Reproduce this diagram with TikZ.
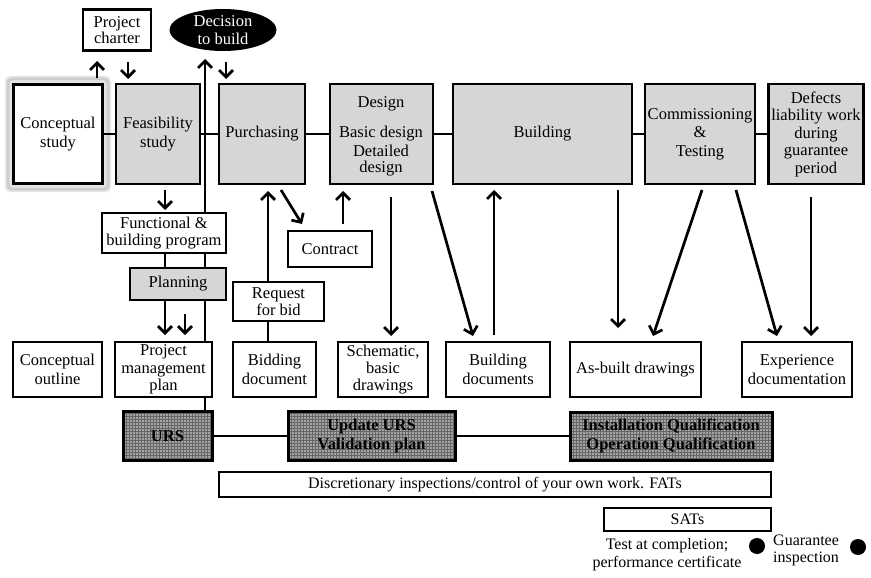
\documentclass[tikz,border=0pt]{standalone}
\usepackage{fontspec}
\setmainfont{Liberation Serif}
\usetikzlibrary{arrows.meta,shapes.geometric,patterns}
\definecolor{boxgray}{HTML}{D6D6D6}
\definecolor{texgray}{HTML}{A4A4A4}
\begin{document}
\begin{tikzpicture}[x=1pt,y=-1pt,
  every node/.style={font=\fontsize{16.5}{18.5}\selectfont, align=center, inner sep=0pt},
  wbox/.style={draw, line width=2.9pt, fill=white, rectangle},
  gbox/.style={wbox, fill=boxgray},
  tbox/.style={draw, line width=3pt, rectangle, preaction={fill=texgray}, pattern=grid, pattern color=gray!80!black, font=\fontsize{16.5}{18.5}\selectfont\bfseries},
  thin box/.style={draw, line width=1.5pt, fill=white, rectangle, font=\fontsize{16}{18}\selectfont},
  conn/.style={line width=2.7pt},
  arr/.style={line width=2.7pt, -{Straight Barb[length=7pt,width=14pt]}},
  dot/.style={circle, fill=black, minimum size=16pt}
]
\useasboundingbox (0,0) rectangle (871,578);

% glow behind conceptual study
\fill[gray!22, rounded corners=5pt] (5,76) rectangle (111,192);
\draw[gray!40, line width=2.5pt, rounded corners=4pt] (8,79) rectangle (108,189);

% top row
\node[wbox, minimum width=89, minimum height=99] (concept) at (58,134) {Conceptual\\study};
\node[gbox, minimum width=84, minimum height=100] (feas) at (158,134) {Feasibility\\study};
\node[gbox, minimum width=86, minimum height=100] (purch) at (262,134) {Purchasing};
\node[gbox, minimum width=103, minimum height=100] (design) at (381.5,134) {};
\node (designtxt) at (381,136.5) {Design\\[12pt]Basic design\\[0pt]Detailed\\[-2pt]design};
\node[gbox, minimum width=179, minimum height=100] (build) at (542.5,134) {Building};
\node[gbox, minimum width=110, minimum height=100] (comm) at (700,134) {Commissioning\\\&\\Testing};
\node[gbox, minimum width=95, minimum height=100, font=\fontsize{16.5}{17.5}\selectfont] (defects) at (816,134) {Defects\\liability work\\during\\guarantee\\period};

\draw[conn] (concept.east) -- (feas.west);
\draw[conn] (feas.east) -- (purch.west);
\draw[conn] (purch.east) -- (design.west);
\draw[conn] (design.east) -- (build.west);
\draw[conn] (build.east) -- (comm.west);
\draw[conn] (comm.east) -- (defects.west);

% top items
\node[wbox, minimum width=68, minimum height=41, font=\fontsize{16.5}{16.5}\selectfont] (charter) at (117,30) {Project\\charter};
\node[ellipse, fill=black, text=white, minimum width=107, minimum height=42, font=\fontsize{16.5}{17.5}\selectfont] (decision) at (223,30) {Decision\\to build};

\coordinate (a1s) at (97,78);  \coordinate (a1e) at (97,61);
\coordinate (a2s) at (128,62); \coordinate (a2e) at (128,79);
\coordinate (a3s) at (226,62); \coordinate (a3e) at (226,79);
\coordinate (vbot) at (205,411); \coordinate (vtop) at (205,59);
\draw[arr] (a1s) -- (a1e);
\draw[arr] (a2s) -- (a2e);
\draw[arr] (a3s) -- (a3e);
\draw[arr] (vbot) -- (vtop);

% left column under feasibility
\node[wbox, minimum width=124, minimum height=40, font=\fontsize{16.5}{17}\selectfont] (func) at (164,233) {Functional \&\\building program};
\node[gbox, minimum width=96, minimum height=32] (plan) at (178,284) {Planning};
\node[wbox, minimum width=97, minimum height=55, font=\fontsize{16.5}{17.5}\selectfont] (pmp) at (163.5,369.5) {Project\\management\\plan};
\node[wbox, minimum width=89, minimum height=55] (concout) at (57.5,369.5) {Conceptual\\outline};

\coordinate (f1s) at (165,190); \coordinate (f1e) at (165,210);
\draw[arr] (f1s) -- (f1e);
\draw[conn] (func.south -| f1s) -- (plan.north -| f1s);
\coordinate (p1s) at (165,300); \coordinate (p1e) at (165,335);
\coordinate (p2s) at (185,314); \coordinate (p2e) at (185,335);
\draw[arr] (p1s) -- (p1e);
\draw[arr] (p2s) -- (p2e);

% middle
\node[wbox, minimum width=91, minimum height=39, font=\fontsize{16.5}{17.5}\selectfont] (bidreq) at (278.5,301.5) {Request\\for bid};
\node[wbox, minimum width=84, minimum height=36] (contract) at (330,249) {Contract};
\node[wbox, minimum width=83, minimum height=55] (bidding) at (274.5,369.5) {Bidding\\document};
\node[wbox, minimum width=90, minimum height=55, font=\fontsize{16.5}{17}\selectfont] (schem) at (383,369.5) {Schematic,\\basic\\drawings};
\node[wbox, minimum width=104, minimum height=55] (buildoc) at (498,369.5) {Building\\documents};
\node[wbox, minimum width=131, minimum height=55] (asbuilt) at (635.5,369.5) {As-built drawings};
\node[wbox, minimum width=110, minimum height=55] (exper) at (797,369.5) {Experience\\documentation};

\coordinate (b1s) at (268,282); \coordinate (b1e) at (268,191);
\draw[arr] (b1s) -- (b1e);
\coordinate (b2s) at (268,321); \coordinate (b2e) at (268,342);
\draw[conn] (b2s) -- (b2e);
\coordinate (c1s) at (281,190); \coordinate (c1e) at (302,224);
\draw[arr] (c1s) -- (c1e);
\coordinate (c2s) at (343,224); \coordinate (c2e) at (343,191);
\draw[arr] (c2s) -- (c2e);
\coordinate (d1s) at (391,197); \coordinate (d1e) at (391,336);
\draw[arr] (d1s) -- (d1e);
\coordinate (d2s) at (432,191); \coordinate (d2e) at (473,336);
\draw[arr] (d2s) -- (d2e);
\coordinate (e1s) at (494,335); \coordinate (e1e) at (494,190);
\draw[arr] (e1s) -- (e1e);
\coordinate (g1s) at (618,190); \coordinate (g1e) at (618,328);
\draw[arr] (g1s) -- (g1e);
\coordinate (h1s) at (702,190); \coordinate (h1e) at (653,336);
\draw[arr] (h1s) -- (h1e);
\coordinate (h2s) at (736,190); \coordinate (h2e) at (777,336);
\draw[arr] (h2s) -- (h2e);
\coordinate (k1s) at (811,197); \coordinate (k1e) at (811,336);
\draw[arr] (k1s) -- (k1e);

% textured row
\node[tbox, minimum width=89, minimum height=49] (urs) at (167.5,436) {URS};
\node[tbox, minimum width=167, minimum height=49] (upd) at (371.5,436) {Update URS\\Validation plan};
\node[tbox, minimum width=202, minimum height=48] (iq) at (671,436) {Installation Qualification\\Operation Qualification};
\draw[conn] (urs.east) -- (upd.west);
\draw[conn] (upd.east) -- (iq.west);

% bottom
\node[thin box, minimum width=552, minimum height=25] (disc) at (495,484.5) {Discretionary inspections/control of your own work. FATs};
\node[thin box, minimum width=167, minimum height=23] (sats) at (687.5,519.5) {SATs};
\node[font=\fontsize{16}{18}\selectfont] (testc) at (667,555) {Test at completion;\\performance certificate};
\node[dot] (dot1) at (757,546) {};
\node[font=\fontsize{16}{17}\selectfont, align=left, anchor=west] (guar) at (773,550) {Guarantee\\inspection};
\node[dot] (dot2) at (858,547) {};
\end{tikzpicture}
\end{document}
